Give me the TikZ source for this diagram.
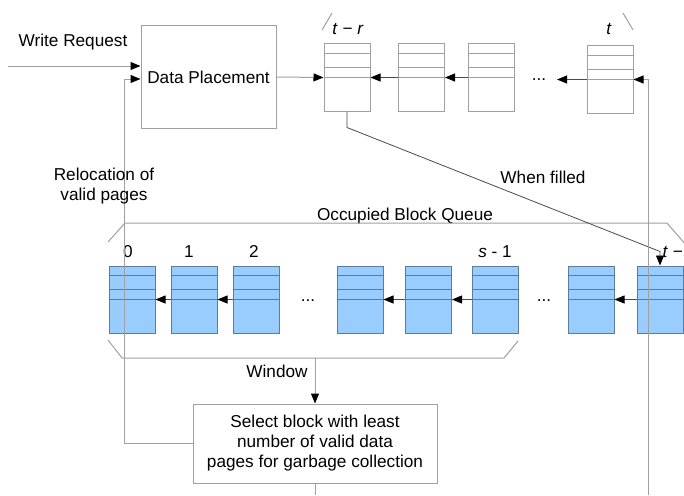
\documentclass[tikz,border=0pt]{standalone}
\usepackage{fontspec}
\setmainfont{Liberation Sans}
\usetikzlibrary{positioning,arrows.meta}
\definecolor{wire}{HTML}{A0A0A0}
\definecolor{linkgray}{HTML}{4A4A4A}
\definecolor{occfill}{HTML}{99CCFF}
\definecolor{occline}{HTML}{5C7C9C}
\tikzset{
  pageblk/.style={draw=#1, line width=1pt, minimum width=46pt, minimum height=67pt, inner sep=0pt,
    path picture={\foreach \dy in {24.5,10.5,0}
      \draw[#1, line width=1pt] ([yshift=\dy pt]path picture bounding box.west) -- ([yshift=\dy pt]path picture bounding box.east);}},
  pageblk/.default=wire,
  occblk/.style={pageblk=occline, fill=occfill},
  box/.style={draw=wire, line width=1pt, fill=white, align=center, inner sep=2pt},
  feed/.style={draw=wire, line width=1pt, -{Triangle[length=10pt,width=8pt,black]}},
  link/.style={draw=linkgray, line width=0.8pt, -{Triangle[length=10pt,width=8pt,black]}},
  brace/.style={draw=wire, line width=1pt},
}

\begin{document}
\begin{tikzpicture}[x=1pt, y=-1pt, every node/.style={font=\fontsize{17.2}{20}\selectfont}]
    \useasboundingbox (0,0) rectangle (684,495);

    % data placement and active blocks
    \node[box, minimum width=135pt, minimum height=102pt] (dp) at (208.5,77) {Data Placement};
    \foreach \n/\x in {1/347, 2/421.5, 3/491.5}
      \node[pageblk] (p\n) at (\x,77.5) {};
    \node[pageblk] (pt) at (610,79.5) {};
    \node[anchor=base] (topdots) at (539,80) {...};
    \coordinate (tdots) at (557,79.5);
    \draw[brace] (322,30) -- (332,13);
    \draw[brace] (623,13) -- (633,30);
    \node[anchor=base] (ltr) at (348,35) {\textit{t} − \textit{r}};
    \node[anchor=base] (lt) at (609,35) {\textit{t}};

    \node[anchor=base] (wreq) at (73,47) {Write Request};
    \coordinate (wrin) at (8,66);
    \draw[feed] (wrin) -- (wrin -| dp.west);
    \draw[feed] (dp.east) -- (p1.west);
    \draw[link] (p3.west) -- (p2.east);
    \draw[link] (p2.west) -- (p1.east);
    \draw[link] (pt.west) -- (tdots);

    % occupied block queue
    \node[anchor=base] (obq) at (405,220) {Occupied Block Queue};
    \draw[brace] (108,242) -- (125,223) -- (667,223) -- (686,245);
    \foreach \n/\x in {1/132, 2/194, 3/256.5, 4/360, 5/428.5, 6/495.5, 7/591, 8/660}
      \node[occblk] (q\n) at (\x,299.5) {};
    \foreach \a/\b in {2/1, 3/2, 5/4, 6/5, 8/7}
      \draw[link] (q\a.west) -- (q\b.east);
    \node[anchor=base] (qdots1) at (308,301) {...};
    \node[anchor=base] (qdots2) at (544,301) {...};
    \node[anchor=base] (l0) at (128,257) {0};
    \node[anchor=base] (l1) at (189,257) {1};
    \node[anchor=base] (l2) at (254,257) {2};
    \node[anchor=base] (ls) at (495,257) {\textit{s} - 1};
    \node[anchor=base east, inner sep=0pt] (ltail) at (683,257) {\textit{t} −};

    \draw[link] (p1.south) -- ++(0,16) -- ([yshift=14pt]q8.north) -- (q8.north);
    \node[anchor=base] (wfill) at (543,183) {When filled};

    % garbage collection window
    \draw[brace] (108,340) -- (122,358) -- (504,358) -- (518,341);
    \node[box, minimum width=244pt, minimum height=79pt] (sel) at (315,443.5)
      {Select block with least\\number of valid data\\pages for garbage collection};
    \node[anchor=base] (win) at (277,377) {Window};
    \draw[feed] (sel.north |- 0,358) -- (sel.north);
    \coordinate (selout) at (315,495);
    \draw[brace] (sel.south) -- (selout);

    \draw[feed] (sel.west) -- ++(-68,0) |- ([yshift=-2pt]dp.west);
    \node[align=center] (reloc) at (104,186) {Relocation of\\valid pages};
    \coordinate (gcin) at (648,495);
    \draw[feed] (gcin) |- (pt.east);
  \end{tikzpicture}
\end{document}
